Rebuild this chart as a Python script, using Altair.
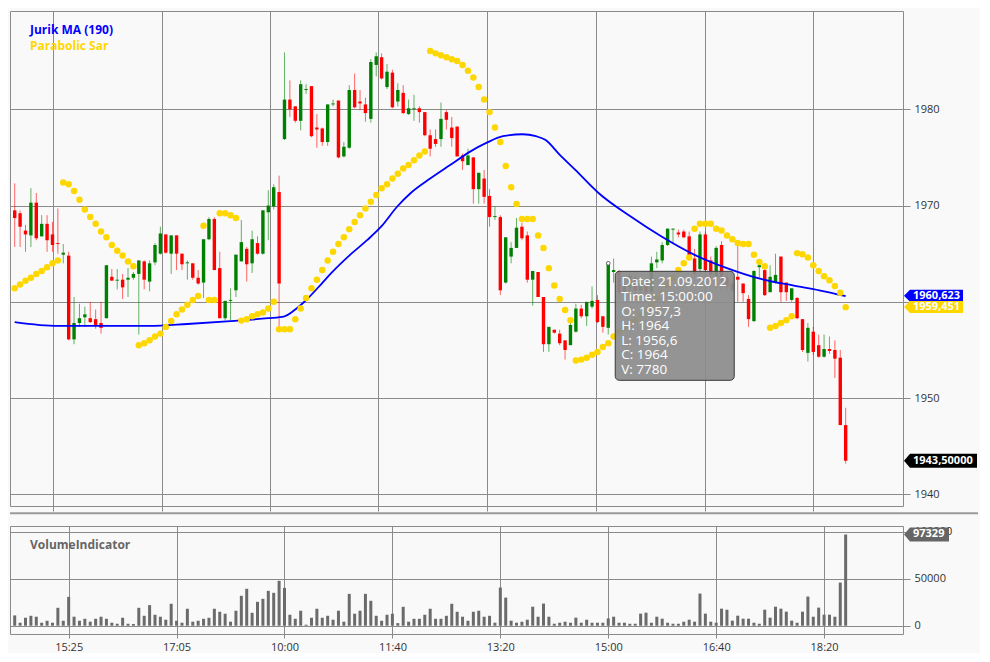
import altair as alt
import pandas as pd

# ---------------- data ----------------
opens = [1969.5, 1969.2, 1967.4, 1966.9, 1970.3, 1966.8, 1968.1, 1967.0, 1966.1, 1964.9,
         1964.8, 1956.1, 1957.8, 1958.4, 1958.3, 1958.2, 1957.8, 1958.3, 1962.6, 1962.2,
         1962.3, 1962.3, 1962.5, 1962.9, 1964.2, 1962.1, 1964.1, 1965.0, 1967.0, 1965.0,
         1966.9, 1965.0, 1964.0, 1964.0, 1962.5, 1962.0, 1966.5, 1968.6, 1963.5, 1958.3,
         1960.1, 1961.2, 1964.2, 1965.5, 1964.0, 1966.1, 1965.0, 1969.3, 1969.9, 1971.4,
         1976.9, 1981.0, 1980.3, 1978.8, 1982.0, 1982.4, 1978.1, 1978.0, 1976.6, 1980.5,
         1980.9, 1975.1, 1976.0, 1982.0, 1980.8, 1980.5, 1979.0, 1984.6, 1985.4, 1982.3,
         1983.8, 1980.8, 1981.7, 1979.5, 1980.0, 1980.1, 1979.7, 1977.3, 1976.9, 1976.9,
         1979.7, 1978.1, 1978.2, 1975.2, 1974.2, 1975.0, 1971.7, 1972.8, 1971.0, 1968.8,
         1968.8, 1962.0, 1964.7, 1965.6, 1967.8, 1966.9, 1962.3, 1963.1, 1960.5, 1955.6,
         1957.1, 1956.7, 1956.0, 1955.5, 1956.9, 1959.3, 1958.5, 1959.5, 1960.2, 1958.5,
         1957.3, 1963.1, 1963.2, 1961.0, 1961.5, 1962.5, 1961.2, 1962.0, 1961.0, 1964.1,
         1964.3, 1965.9, 1967.5, 1967.2, 1967.3, 1966.8, 1964.5, 1963.4, 1967.0, 1964.3,
         1962.7, 1965.9, 1962.5, 1961.2, 1962.6, 1961.9, 1960.3, 1958.0, 1963.6, 1963.3,
         1961.0, 1962.0, 1964.7, 1962.0, 1960.2, 1960.4, 1958.2, 1954.7, 1956.9, 1955.5,
         1954.3, 1955.1, 1955.0, 1954.2, 1947.2]
highs = [1972.3, 1969.5, 1968.0, 1971.8, 1971.3, 1969.0, 1969.0, 1968.3, 1969.7, 1966.0,
         1965.2, 1960.5, 1959.8, 1959.5, 1960.0, 1959.2, 1960.0, 1963.8, 1963.4, 1963.4,
         1962.9, 1963.5, 1963.1, 1964.3, 1964.3, 1964.3, 1966.1, 1967.8, 1967.0, 1966.9,
         1966.9, 1965.0, 1964.3, 1964.0, 1963.3, 1966.5, 1968.8, 1968.8, 1965.2, 1960.1,
         1961.4, 1964.9, 1968.5, 1965.7, 1967.4, 1966.8, 1969.5, 1971.6, 1972.2, 1973.1,
         1985.9, 1983.0, 1980.3, 1983.0, 1982.6, 1982.4, 1979.5, 1978.1, 1980.5, 1981.0,
         1980.9, 1976.6, 1982.5, 1983.7, 1982.0, 1981.2, 1985.2, 1985.9, 1985.8, 1984.7,
         1984.1, 1982.7, 1982.5, 1981.0, 1981.5, 1980.3, 1979.7, 1977.9, 1977.9, 1980.7,
         1979.9, 1979.2, 1978.2, 1975.4, 1975.9, 1975.0, 1973.4, 1973.7, 1971.7, 1969.9,
         1969.0, 1966.7, 1966.2, 1968.7, 1968.2, 1967.3, 1963.2, 1963.1, 1960.5, 1957.4,
         1957.1, 1957.1, 1956.0, 1958.1, 1959.8, 1959.7, 1960.0, 1961.6, 1960.7, 1958.5,
         1964.0, 1964.5, 1963.3, 1962.4, 1963.0, 1962.8, 1962.5, 1962.3, 1964.7, 1965.2,
         1966.2, 1967.6, 1967.6, 1967.5, 1967.5, 1967.3, 1965.5, 1967.3, 1967.3, 1964.7,
         1965.8, 1966.3, 1963.0, 1962.3, 1965.9, 1961.9, 1960.7, 1963.3, 1964.2, 1963.8,
         1963.8, 1965.0, 1964.7, 1962.0, 1961.4, 1960.5, 1958.2, 1957.8, 1957.4, 1956.6,
         1956.6, 1956.4, 1956.0, 1955.0, 1949.0]
lows = [1965.7, 1965.7, 1965.2, 1965.7, 1966.4, 1966.8, 1965.2, 1965.2, 1965.0, 1964.0,
        1956.0, 1955.6, 1957.4, 1957.4, 1957.8, 1957.2, 1956.7, 1958.3, 1962.2, 1961.3,
        1960.3, 1960.5, 1962.3, 1956.6, 1961.3, 1961.1, 1963.8, 1964.9, 1965.0, 1962.9,
        1963.3, 1963.3, 1962.3, 1962.3, 1961.8, 1960.4, 1966.4, 1963.3, 1958.3, 1958.1,
        1958.1, 1960.5, 1964.2, 1962.1, 1963.0, 1964.9, 1964.9, 1966.4, 1969.6, 1957.1,
        1976.8, 1979.2, 1978.6, 1977.8, 1981.6, 1977.1, 1976.0, 1976.2, 1976.2, 1980.3,
        1974.9, 1975.0, 1975.9, 1980.1, 1979.9, 1978.7, 1978.6, 1983.4, 1983.1, 1982.1,
        1980.1, 1980.3, 1979.5, 1979.4, 1978.8, 1978.6, 1977.2, 1975.1, 1976.1, 1976.1,
        1977.9, 1976.1, 1975.1, 1973.7, 1974.2, 1970.2, 1970.2, 1970.2, 1967.8, 1968.5,
        1960.7, 1961.9, 1964.0, 1965.6, 1966.4, 1962.0, 1959.6, 1960.5, 1954.8, 1954.8,
        1956.7, 1955.5, 1954.0, 1955.5, 1956.8, 1958.3, 1957.5, 1959.3, 1957.8, 1956.8,
        1956.6, 1962.0, 1960.3, 1960.5, 1961.0, 1960.5, 1960.8, 1960.0, 1960.8, 1963.5,
        1964.0, 1965.8, 1966.0, 1966.7, 1966.6, 1964.3, 1962.5, 1962.7, 1963.0, 1962.2,
        1962.5, 1961.1, 1961.0, 1961.0, 1960.0, 1960.0, 1957.4, 1957.9, 1962.4, 1960.6,
        1961.0, 1961.9, 1960.0, 1960.1, 1960.0, 1958.2, 1954.8, 1953.8, 1954.5, 1954.2,
        1954.2, 1954.6, 1952.1, 1947.2, 1943.2]
closes = [1968.7, 1967.8, 1967.0, 1970.3, 1966.6, 1968.1, 1966.4, 1965.9, 1966.0, 1965.1,
          1956.1, 1957.8, 1958.3, 1958.7, 1957.9, 1957.6, 1957.3, 1963.8, 1962.2, 1962.3,
          1961.5, 1962.5, 1962.9, 1964.3, 1962.3, 1964.0, 1965.9, 1967.1, 1965.1, 1966.9,
          1965.0, 1963.9, 1964.1, 1962.5, 1961.9, 1966.5, 1968.6, 1963.3, 1958.3, 1960.1,
          1960.2, 1964.9, 1966.2, 1963.9, 1966.5, 1965.0, 1969.5, 1970.0, 1971.9, 1961.9,
          1981.0, 1980.0, 1978.8, 1982.6, 1982.1, 1977.2, 1977.9, 1976.6, 1980.5, 1980.6,
          1975.0, 1976.1, 1982.0, 1980.2, 1980.6, 1979.6, 1984.9, 1985.5, 1983.2, 1983.9,
          1980.2, 1982.0, 1979.6, 1980.1, 1980.1, 1979.7, 1977.3, 1975.9, 1976.4, 1979.0,
          1978.9, 1977.0, 1975.1, 1974.6, 1975.2, 1971.7, 1973.4, 1970.9, 1968.8, 1968.9,
          1961.2, 1966.7, 1965.6, 1967.7, 1966.6, 1962.3, 1963.2, 1960.5, 1955.6, 1957.4,
          1956.8, 1955.7, 1955.0, 1957.6, 1959.3, 1958.5, 1960.0, 1960.1, 1957.9, 1957.4,
          1964.0, 1963.3, 1961.0, 1961.8, 1962.7, 1961.2, 1962.0, 1961.0, 1964.0, 1964.4,
          1965.9, 1967.6, 1967.6, 1967.0, 1966.7, 1964.5, 1962.9, 1967.0, 1963.3, 1962.8,
          1965.6, 1962.3, 1961.6, 1961.9, 1962.3, 1960.9, 1958.2, 1963.2, 1963.8, 1960.7,
          1962.6, 1962.8, 1961.0, 1961.0, 1961.4, 1958.3, 1955.0, 1957.3, 1954.8, 1954.3,
          1955.1, 1954.9, 1954.1, 1947.2, 1943.5]
volumes = [11000, 3200, 8500, 10600, 9600, 3200, 5300, 3200, 19100, 5300,
           30800, 9600, 5300, 7400, 4300, 7400, 9600, 7400, 3200, 2100,
           8500, 2100, 1800, 19100, 10600, 22000, 11700, 9600, 6400, 23400,
           5300, 3200, 18100, 4300, 5300, 7400, 8500, 18100, 14900, 12800,
           4300, 16000, 31900, 39400, 13800, 25500, 28700, 37200, 35100, 47900,
           40400, 11700, 7400, 16000, 1100, 8500, 18100, 8500, 10600, 6400,
           16000, 4300, 34000, 12800, 16000, 34000, 26600, 10600, 5300, 11700,
           12800, 2800, 20200, 4300, 7400, 7400, 11700, 18100, 7400, 7400,
           10600, 23400, 14900, 9600, 5300, 14900, 16000, 9600, 10600, 3200,
           40700, 30000, 5400, 3200, 4300, 6400, 20300, 9600, 23600, 9600,
           2100, 3200, 4300, 3200, 8600, 3200, 6400, 3200, 3200, 3200,
           7780, 9600, 3200, 3200, 2100, 2100, 12900, 13900, 3200, 9600,
           7500, 3200, 2100, 2100, 4300, 6400, 4300, 34300, 12900, 4300,
           3200, 18200, 17100, 5400, 10700, 7500, 7500, 3200, 2100, 17100,
           8600, 20300, 18200, 15000, 5400, 3200, 15000, 31100, 9600, 19300,
           11800, 11800, 9600, 46000, 97329]
sar = [1961.4, 1961.8, 1962.2, 1962.5, 1962.9, 1963.2, 1963.6, 1964.0, 1964.3, 1972.4,
       1972.2, 1971.5, 1970.6, 1969.6, 1968.8, 1968.1, 1967.3, 1966.7, 1965.9, 1965.3,
       1964.8, 1964.2, 1963.7, 1955.5, 1955.7, 1956.0, 1956.4, 1956.7, 1957.4, 1958.0,
       1958.7, 1959.2, 1959.7, 1960.2, 1960.6, 1967.9, 1960.2, 1960.2, 1969.2, 1969.2,
       1969.0, 1968.7, 1958.05, 1958.2, 1958.5, 1958.7, 1958.9, 1959.3, 1960.0, 1957.15,
       1957.15, 1957.15, 1958.2, 1959.3, 1960.4, 1961.4, 1962.3, 1963.3, 1964.3, 1965.2,
       1966.0, 1966.7, 1967.55, 1968.3, 1969.0, 1969.7, 1970.4, 1971.1, 1971.8, 1972.2,
       1972.8, 1973.3, 1973.85, 1974.2, 1974.7, 1975.2, 1975.6, 1986.05, 1985.8, 1985.6,
       1985.4, 1985.2, 1985.0, 1984.6, 1984.0, 1983.3, 1982.3, 1981.0, 1979.7, 1978.1,
       1976.6, 1974.1, 1971.9, 1970.15, 1968.6, 1968.6, 1968.6, 1966.9, 1965.6, 1963.5,
       1961.7, 1960.3, 1959.15, 1958.1, 1953.9, 1954.0, 1954.2, 1954.5, 1954.8, 1955.3,
       1955.7, 1956.4, 1956.9, 1957.3, 1957.7, 1958.1, 1958.6, 1959.1, 1959.7, 1960.4,
       1961.0, 1961.7, 1962.5, 1963.3, 1964.0, 1964.6, 1967.6, 1968.1, 1968.1, 1968.1,
       1967.6, 1967.4, 1966.9, 1966.5, 1966.1, 1966.0, 1966.0, 1964.9, 1964.15, 1963.7,
       1957.3, 1957.5, 1957.8, 1958.1, 1958.5, 1965.05, 1964.95, 1964.6, 1963.8, 1963.2,
       1962.65, 1962.25, 1961.65, 1960.95, 1959.45]
jurik_idx = [0, 8, 25, 32, 40, 47, 50, 52, 54.4, 56.9, 58.7, 62.4, 65.3, 67.9, 70.9, 73.4,
             77, 80.7, 84.4, 87.4, 90.5, 94.1, 96.6, 98.4, 100.8, 103.9, 108.2, 114.3,
             119.8, 125.9, 132, 138.1, 144.2, 149.1, 154]
jurik_val = [1957.9, 1957.5, 1957.5, 1957.7, 1958.0, 1958.3, 1958.5, 1959.2, 1960.4, 1961.9,
             1963.0, 1965.0, 1966.4, 1967.8, 1969.9, 1971.3, 1972.8, 1974.2, 1975.6, 1976.5,
             1977.2, 1977.4, 1977.2, 1976.8, 1975.4, 1973.7, 1971.3, 1968.8, 1966.8, 1964.9,
             1963.5, 1962.4, 1961.7, 1961.2, 1960.6]
tick_idx = [10, 30, 50, 70, 90, 110, 130, 150]
tick_labels = ["15:25", "17:05", "10:00", "11:40", "13:20", "15:00", "16:40", "18:20"]
main_grid_idx = [7.07, 27.23, 47.39, 67.36, 87.52, 107.68, 127.84, 148.0]
price_ticks = [1940, 1950, 1960, 1970, 1980]
vol_ticks = [0, 50000, 100000]
jurik_last = 1960.623
sar_last = 1959.451
tip_index = 110
tip_date = "21.09.2012"
tip_time = "15:00:00"

# ---------------- chart ----------------
FONT = "Open Sans"
GRID = "#8a8a8a"
n = len(closes)
df = pd.DataFrame({"i": list(range(n)), "open": opens, "high": highs, "low": lows,
                   "close": closes, "volume": volumes, "sar": sar, "zero": [0] * n})
jur = pd.DataFrame({"i": jurik_idx, "v": jurik_val})
one = pd.DataFrame({"a": [0]})

xs = alt.Scale(domain=[0.055, 163.7], nice=False, zero=False)
ys = alt.Scale(domain=[1938.8, 1990.2], nice=False, zero=False)
vs = alt.Scale(domain=[-8830, 106380], nice=False, zero=False)

main_x_axis = alt.Axis(values=main_grid_idx, labels=False, ticks=True, tickSize=5,
                       grid=True, domain=False, title=None)
main_y_axis = alt.Axis(orient="right", values=price_ticks, format="d", grid=True,
                       tickSize=7, labelPadding=4, domain=False, title=None)


def MX(field):
    return alt.X(field, scale=xs, axis=main_x_axis)


def MY(field):
    return alt.Y(field, scale=ys, axis=main_y_axis)


col = alt.condition("datum.close >= datum.open", alt.value("#008000"), alt.value("#ff0000"))
base = alt.Chart(df)

wicks = base.mark_rule(strokeWidth=1, opacity=0.6, clip=True).encode(
    x=MX("i:Q"), y=MY("low:Q"), y2="high:Q", color=col)
bodies = base.mark_bar(size=3.4, clip=True).encode(
    x=MX("i:Q"), y=MY("open:Q"), y2="close:Q", color=col)
jurik = alt.Chart(jur).mark_line(color="#0000ff", strokeWidth=1.8, interpolate="monotone",
                                 clip=True).encode(x=MX("i:Q"), y=MY("v:Q"))
sar_pts = base.mark_circle(size=42, color="#ffd700", opacity=1, clip=True).encode(
    x=MX("i:Q"), y=MY("sar:Q"))


def label(text, x, y, color, size=12, weight="bold"):
    return alt.Chart(one).mark_text(align="left", baseline="middle", font=FONT, fontSize=size,
                                    fontWeight=weight, color=color, text=text).encode(
        x=alt.value(x), y=alt.value(y))


def tag(value, text, color, w, h, ych):
    t = 12.0 / w
    hh = h / w
    path = (f"M -1 0 L {-1 + t:.4f} {-hh:.4f} L 1 {-hh:.4f} L 1 {hh:.4f} "
            f"L {-1 + t:.4f} {hh:.4f} Z")
    d = pd.DataFrame({"v": [value]})
    shape = alt.Chart(d).mark_point(shape=path, size=w * w, filled=True, color=color,
                                    opacity=1, strokeWidth=0).encode(
        x=alt.value(894 + w / 2), y=ych("v:Q"))
    txt = alt.Chart(d).mark_text(align="left", baseline="middle", font=FONT, fontSize=11,
                                 fontWeight="bold", color="white", text=text).encode(
        x=alt.value(903), y=ych("v:Q"))
    return [shape, txt]


def fmt(v):
    s = f"{v:.1f}"
    if s.endswith(".0"):
        s = s[:-2]
    return s.replace(".", ",")


def fmt3(v):
    return f"{v:.3f}".replace(".", ",")


tip_lines = [f"Date: {tip_date}", f"Time: {tip_time}",
             f"O: {fmt(opens[tip_index])}", f"H: {fmt(highs[tip_index])}",
             f"L: {fmt(lows[tip_index])}", f"C: {fmt(closes[tip_index])}",
             f"V: {volumes[tip_index]}"]
tip_df = pd.DataFrame({"i": [tip_index], "p": [highs[tip_index]]})
tip_base = alt.Chart(tip_df)
tip_rect = tip_base.mark_rect(xOffset=7, x2Offset=126, yOffset=8, y2Offset=117,
                              cornerRadius=4, fill="#8c8c8c", fillOpacity=0.93,
                              stroke="#3a3a3a", strokeWidth=1).encode(
    x=MX("i:Q"), x2="i:Q", y=MY("p:Q"), y2="p:Q")
tip_text = tip_base.mark_text(text=tip_lines, align="left", baseline="top", dx=13, dy=12,
                              lineHeight=14.6, font=FONT, fontSize=13.5, color="white").encode(
    x=MX("i:Q"), y=MY("p:Q"))
tip_mark = tip_base.mark_point(filled=True, fill="white", stroke="#444", strokeWidth=0.8,
                               size=14, opacity=1).encode(x=MX("i:Q"), y=MY("p:Q"))

main_layers = [wicks, bodies, jurik, sar_pts,
               label("Jurik MA (190)", 20, 18.5, "#0000ff"),
               label("Parabolic Sar", 20, 34.5, "#ffd700")]
main_layers += tag(jurik_last, fmt3(jurik_last), "#0000ff", 59, 12, MY)
main_layers += tag(sar_last, fmt3(sar_last), "#ffd700", 59, 12, MY)
main_layers += tag(closes[-1], f"{closes[-1]:.5f}".replace(".", ","), "#000000", 73, 14, MY)
main_layers += [tip_rect, tip_text, tip_mark]
main = alt.layer(*main_layers).properties(width=893, height=495)

expr = " : ".join(f"datum.value == {t} ? '{l}'" for t, l in zip(tick_idx, tick_labels)) + " : ''"
vol_x_axis = alt.Axis(values=tick_idx, labelExpr=expr, grid=True, tickSize=4, labelPadding=3,
                      domain=False, title=None)
vol_y_axis = alt.Axis(orient="right", values=vol_ticks, format="d", grid=True, tickSize=7,
                      labelPadding=4, domain=False, title=None)


def VY(field):
    return alt.Y(field, scale=vs, axis=vol_y_axis)


vol_bars = base.mark_bar(size=3, color="#6b6b6b", clip=True).encode(
    x=alt.X("i:Q", scale=xs, axis=vol_x_axis), y=VY("volume:Q"), y2="zero:Q")
separator = alt.Chart(one).mark_rule(color="#9a9a9a", strokeWidth=2).encode(
    x=alt.value(0), x2=alt.value(968), y=alt.value(-12.7))
vol_layers = [vol_bars, separator, label("VolumeIndicator", 20, 18.5, "#666666")]
vol_layers += tag(volumes[-1], str(volumes[-1]), "#666666", 45, 14, VY)
vol = alt.layer(*vol_layers).properties(width=893, height=108)

chart = alt.vconcat(main, vol, spacing=20, bounds="flush").properties(
    padding={"left": 0, "top": 2, "right": 0, "bottom": 0},
    background="#f9f9f9",
).configure_view(stroke=GRID, strokeWidth=1).configure_axis(
    labelFont=FONT, labelFontSize=11, labelColor="#333333",
    gridColor=GRID, gridOpacity=1, gridWidth=1, tickColor=GRID, tickWidth=1,
)

chart.save("out.html", embed_options={"renderer": "svg", "actions": False})
